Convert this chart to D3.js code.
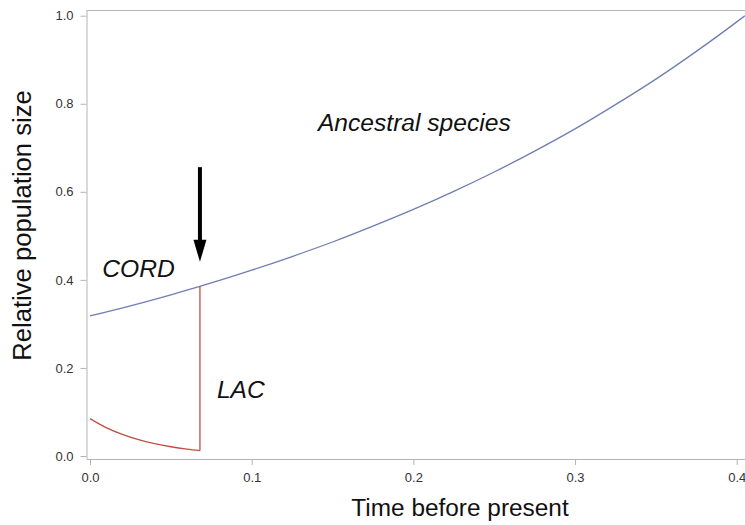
<!DOCTYPE html>
<html>
<head>
<meta charset="utf-8">
<script src="https://cdn.jsdelivr.net/npm/d3@7"></script>
<style>
  html, body { margin: 0; padding: 0; background: #fff; overflow: hidden; width: 745px; height: 525px; }
  svg { display: block; overflow: hidden; font-family: "Liberation Sans", Arial, Helvetica, sans-serif; }
</style>
</head>
<body>
<svg id="chart" width="745" height="525"></svg>
<script>
// ---- data ----
const xTicks = [0.0, 0.1, 0.2, 0.3, 0.4];
const yTicks = [0.0, 0.2, 0.4, 0.6, 0.8, 1.0];

const ancestralX = [0, 0.025, 0.05, 0.068, 0.075, 0.1, 0.125, 0.15, 0.175, 0.2, 0.225, 0.25, 0.275, 0.3, 0.325, 0.35, 0.375, 0.4, 0.405];
const ancestralY = [0.318, 0.341, 0.366, 0.3855, 0.393, 0.422, 0.453, 0.486, 0.522, 0.560, 0.601, 0.645, 0.6925, 0.743, 0.798, 0.856, 0.919, 0.986, 1.000];

const lacX = [0, 0.01, 0.02, 0.03, 0.04, 0.05, 0.06, 0.068, 0.068];
const lacY = [0.085, 0.0645, 0.049, 0.037, 0.028, 0.021, 0.0155, 0.012, 0.3855];

const arrowX = [0.068, 0.068];
const arrowY = [0.656, 0.441];

const labels = [
  { text: "Ancestral species", x: 0.141, y: 0.738 },
  { text: "CORD", x: 0.0076, y: 0.407 },
  { text: "LAC", x: 0.0785, y: 0.131 }
];

const xTitle = "Time before present";
const yTitle = "Relative population size";

// ---- layout ----
(function () {
const svg = d3.select("#chart");
const W = 745;
const mLeft = 86.5, mRight = 753, mTop = 10.5, mBottom = 459;

const x = d3.scaleLinear().domain([-0.00216, 0.41006]).range([mLeft, mRight]);
const y = d3.scaleLinear().domain([-0.0068, 1.0118]).range([mBottom, mTop]);

const axisColor = "#b4b4b4";
const tickTextColor = "#333";

svg.append("line")
  .attr("x1", mLeft).attr("x2", W).attr("y1", mTop).attr("y2", mTop)
  .attr("stroke", axisColor).attr("stroke-width", 1);

const xAxis = svg.append("g").attr("transform", `translate(0,${mBottom})`)
  .call(d3.axisBottom(x).tickValues(xTicks).tickFormat(d3.format(".1f")).tickSize(6).tickSizeOuter(0).tickPadding(8));
const yAxis = svg.append("g").attr("transform", `translate(${mLeft},0)`)
  .call(d3.axisLeft(y).tickValues(yTicks).tickFormat(d3.format(".1f")).tickSize(6).tickSizeOuter(0).tickPadding(7));

[xAxis, yAxis].forEach(g => {
  g.select(".domain").attr("stroke", axisColor);
  g.selectAll(".tick line").attr("stroke", axisColor);
  g.selectAll(".tick text").attr("fill", tickTextColor)
    .style("font-size", "13px")
    .style("font-family", "'Liberation Sans', Arial, sans-serif");
});

const plot = svg.append("g");
const line = d3.line().x(d => x(d[0])).y(d => y(d[1])).curve(d3.curveMonotoneX);
const lineLinear = d3.line().x(d => x(d[0])).y(d => y(d[1]));

plot.append("path")
  .datum(ancestralX.map((v, i) => [v, ancestralY[i]]))
  .attr("d", line)
  .attr("fill", "none").attr("stroke", "#6F7EB3").attr("stroke-width", 1.3);

const lacPts = lacX.map((v, i) => [v, lacY[i]]);
plot.append("path")
  .datum(lacPts.slice(0, lacPts.length - 1))
  .attr("d", line)
  .attr("fill", "none").attr("stroke", "#C05046").attr("stroke-width", 1.3);
plot.append("path")
  .datum(lacPts.slice(lacPts.length - 2))
  .attr("d", lineLinear)
  .attr("fill", "none").attr("stroke", "#C05046").attr("stroke-width", 1.3);

const ax = x(arrowX[0]), ay0 = y(arrowY[0]), ay1 = y(arrowY[1]);
const headLen = 22, headW = 6.5;
svg.append("line")
  .attr("x1", ax).attr("x2", ax).attr("y1", ay0).attr("y2", ay1 - headLen + 2)
  .attr("stroke", "#000").attr("stroke-width", 4);
svg.append("path")
  .attr("d", `M${ax - headW},${ay1 - headLen} L${ax + headW},${ay1 - headLen} L${ax},${ay1} Z`)
  .attr("fill", "#000");

svg.selectAll("text.lbl").data(labels).enter().append("text")
  .attr("class", "lbl")
  .attr("x", d => x(d.x)).attr("y", d => y(d.y))
  .attr("font-style", "italic")
  .style("font-size", "24.6px")
  .attr("fill", "#111")
  .text(d => d.text);

svg.append("text")
  .attr("x", 460).attr("y", 516)
  .attr("text-anchor", "middle")
  .style("font-size", "24.4px").attr("fill", "#111")
  .text(xTitle);

svg.append("text")
  .attr("transform", `translate(30.5,${225.5}) rotate(-90)`)
  .attr("text-anchor", "middle")
  .style("font-size", "25.6px").attr("fill", "#111")
  .text(yTitle);
})();
</script>
</body>
</html>
